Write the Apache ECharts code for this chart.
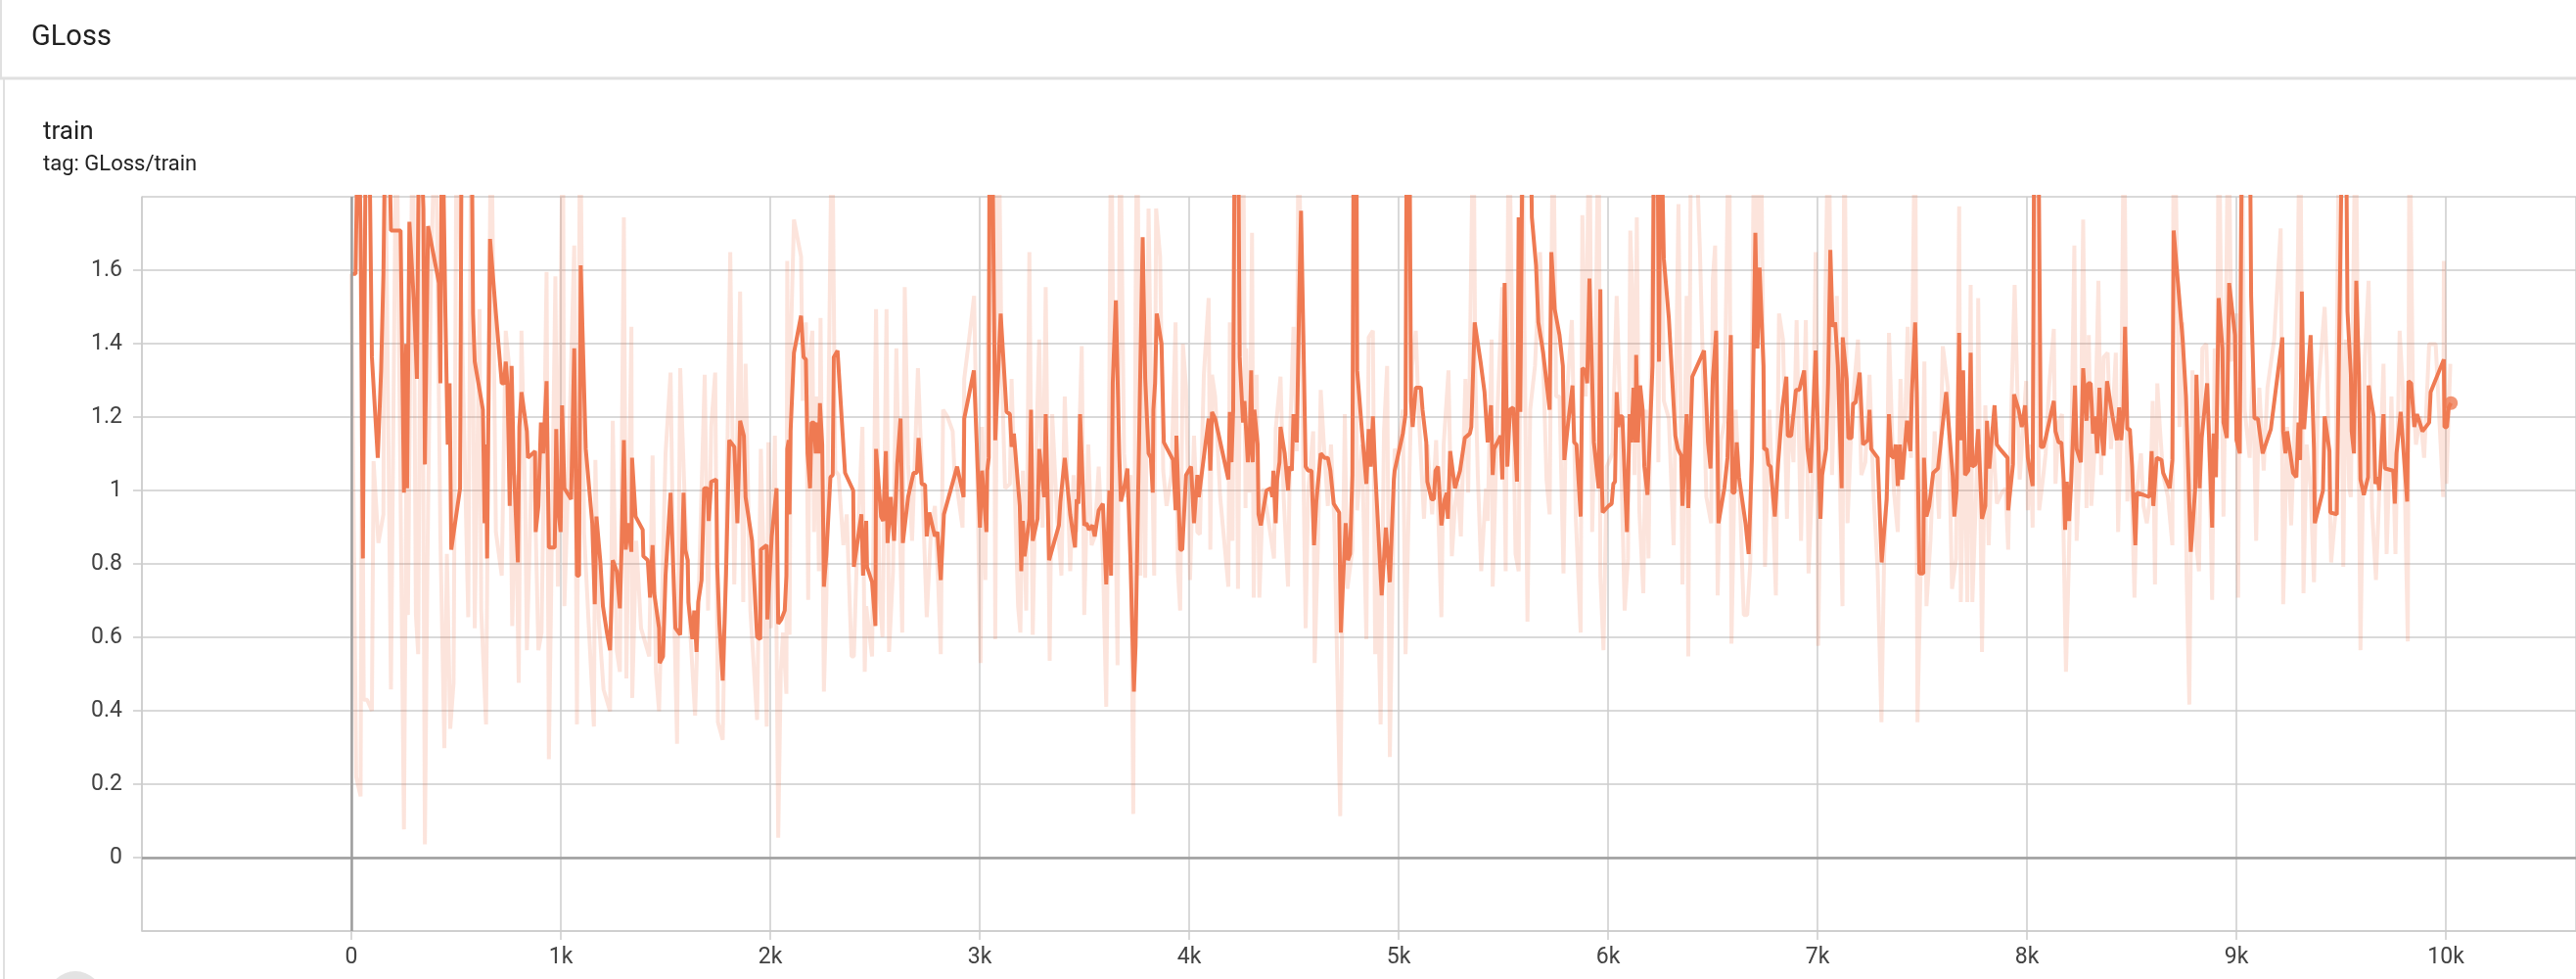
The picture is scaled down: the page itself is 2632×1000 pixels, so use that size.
<!DOCTYPE html>
<html>
<head>
<meta charset="utf-8">
<script src="https://cdn.jsdelivr.net/npm/echarts@6/dist/echarts.min.js"></script>
<style>
html,body{margin:0;padding:0;background:#fff;}
#chart{width:2632px;height:1000px;}
</style>
</head>
<body>
<div id="chart"></div>
<script>
// ---- data (step, value) ----
const smoothed = [
[5,1.59],[20,1.59],[33,2.1],[44,1.71],[55,0.815],[64,0.815],[70,2.1],[83,2.1],[98,1.363],[126,1.089],[142,1.327],[153,1.589],[164,2.1],[176,2.1],[189,1.708],[235,1.708],[251,0.994],[262,1.399],[266,1.006],[277,1.732],[298,1.518],[313,1.304],[324,2.1],[344,1.768],[351,1.071],[366,1.72],[418,1.565],[425,1.292],[433,2.1],[449,1.482],[460,1.125],[469,1.292],[477,0.839],[519,1.006],[527,2.1],[573,2.1],[581,1.482],[589,1.351],[628,1.22],[636,0.911],[643,1.125],[648,0.815],[662,1.685],[690,1.482],[718,1.292],[729,1.292],[737,1.351],[745,1.292],[756,0.958],[765,1.339],[776,1.054],[795,0.804],[802,1.173],[812,1.268],[838,1.161],[843,1.089],[877,1.107],[880,0.887],[893,0.958],[905,1.185],[916,1.101],[932,1.298],[943,0.845],[971,0.845],[978,1.167],[986,0.958],[999,0.887],[1006,1.232],[1017,1.006],[1049,0.976],[1064,1.387],[1077,0.768],[1087,0.768],[1095,1.613],[1119,1.113],[1150,0.911],[1162,0.69],[1170,0.929],[1189,0.804],[1201,0.685],[1220,0.613],[1235,0.565],[1248,0.81],[1267,0.78],[1282,0.679],[1290,0.839],[1301,1.137],[1310,0.839],[1321,0.911],[1337,0.833],[1340,1.089],[1357,0.929],[1391,0.893],[1394,0.821],[1415,0.81],[1426,0.708],[1438,0.851],[1446,0.72],[1469,0.625],[1472,0.53],[1488,0.548],[1500,0.768],[1524,0.994],[1547,0.625],[1570,0.607],[1586,0.994],[1594,0.839],[1606,0.81],[1609,0.696],[1628,0.595],[1637,0.673],[1648,0.56],[1656,0.696],[1672,0.756],[1684,1.006],[1700,1.006],[1706,0.917],[1718,1.024],[1742,1.03],[1747,0.792],[1757,0.637],[1773,0.482],[1789,0.774],[1804,1.137],[1828,1.119],[1843,0.911],[1856,1.19],[1874,1.149],[1882,0.982],[1913,0.863],[1937,0.601],[1952,0.595],[1955,0.839],[1983,0.851],[1986,0.649],
[2007,0.875],[2030,1.006],[2038,0.637],[2053,0.649],[2069,0.673],[2077,0.768],[2081,1.113],[2088,1.137],[2092,0.935],[2097,1.161],[2113,1.375],[2147,1.476],[2159,1.363],[2170,1.357],[2178,1.101],[2190,1.006],[2197,1.185],[2209,1.185],[2217,1.101],[2225,1.185],[2232,1.101],[2237,1.238],[2248,1.125],[2256,0.738],[2268,0.827],[2287,1.036],[2298,1.042],[2303,1.363],[2321,1.381],[2357,1.048],[2396,1.0],[2399,0.792],[2435,0.935],[2443,0.768],[2458,0.917],[2462,0.792],[2486,0.75],[2502,0.631],[2505,1.113],[2529,0.929],[2539,0.917],[2552,1.107],[2560,0.857],[2575,0.982],[2591,0.863],[2606,1.071],[2622,1.196],[2633,0.857],[2658,0.982],[2684,1.048],[2700,1.048],[2708,1.143],[2723,1.018],[2739,1.015],[2747,0.875],[2759,0.94],[2786,0.875],[2798,0.887],[2814,0.756],[2829,0.935],[2892,1.065],[2923,0.982],[2926,1.196],[2972,1.327],[2985,1.137],[3001,0.899],[3011,1.054],[3032,0.887],[3036,1.054],[3043,1.089],[3047,2.1],[3058,2.1],[3074,1.137],[3100,1.482],[3128,1.214],[3144,1.208],[3152,1.119],[3163,1.155],[3191,0.958],[3198,0.78],[3206,0.917],[3214,0.821],[3237,0.923],[3245,1.22],[3253,0.863],[3276,0.923],[3284,1.113],[3308,0.982],[3315,1.208],[3331,0.81],[3339,0.81],[3378,0.905],[3385,0.97],[3406,1.089],[3432,0.935],[3455,0.845],[3463,0.976],[3471,0.964],[3479,1.208],[3499,0.905],[3510,0.911],[3521,0.893],[3538,0.905],[3549,0.875],[3568,0.946],[3588,0.964],[3604,0.744],[3619,1.0],[3627,0.768],[3635,1.292],[3650,1.518],[3666,1.101],[3674,0.97],[3689,1.006],[3705,1.06],[3720,0.804],[3736,0.452],[3744,0.577],[3755,0.946],[3767,1.339],[3778,1.69],[3790,1.304],[3798,1.304],[3806,1.101],[3817,1.089],[3826,0.994],[3829,1.22],[3837,1.292],[3845,1.482],[3868,1.399],[3879,1.131],[3923,1.083],[3935,0.946],[3939,1.149],[3957,0.839],[3967,0.839],[3985,1.042],[4009,1.065],
[4023,0.911],[4039,1.042],[4046,0.982],[4054,0.982],[4093,1.196],[4101,1.054],[4109,1.214],[4124,1.196],[4187,1.03],[4194,1.214],[4202,1.077],[4210,1.22],[4218,2.1],[4233,2.1],[4241,1.363],[4257,1.185],[4264,1.244],[4280,1.077],[4288,1.125],[4296,1.327],[4303,1.077],[4311,1.22],[4327,1.125],[4331,0.935],[4342,0.905],[4369,1.0],[4389,1.006],[4397,0.982],[4402,1.054],[4413,0.911],[4420,1.03],[4431,1.077],[4436,1.173],[4456,1.101],[4472,1.0],[4478,1.065],[4490,1.054],[4498,1.208],[4514,1.131],[4525,1.518],[4534,1.762],[4545,1.423],[4556,1.065],[4568,1.054],[4584,1.054],[4596,0.851],[4607,0.97],[4628,1.101],[4646,1.089],[4662,1.089],[4674,1.054],[4690,0.964],[4716,0.94],[4724,0.613],[4747,0.911],[4758,0.81],[4768,0.827],[4779,1.042],[4786,2.1],[4798,2.1],[4802,1.327],[4825,1.161],[4846,1.018],[4857,1.167],[4867,1.065],[4877,1.202],[4888,1.054],[4919,0.714],[4939,0.899],[4958,0.75],[4977,1.03],[4981,1.054],[5020,1.155],[5033,1.208],[5039,2.1],[5051,2.1],[5059,1.244],[5067,1.173],[5082,1.28],[5106,1.28],[5114,1.22],[5132,1.131],[5137,1.024],[5157,0.976],[5168,0.976],[5176,1.054],[5188,1.065],[5204,0.905],[5220,0.976],[5230,0.994],[5235,0.923],[5246,1.107],[5269,1.006],[5293,1.054],[5316,1.143],[5340,1.155],[5347,1.173],[5363,1.458],[5391,1.351],[5410,1.268],[5425,1.131],[5441,1.232],[5449,1.042],[5456,1.113],[5487,1.149],[5495,1.03],[5506,1.565],[5519,1.065],[5531,1.22],[5547,1.226],[5565,1.024],[5573,1.744],[5581,1.214],[5593,2.1],[5628,2.1],[5636,1.744],[5656,1.613],[5667,1.458],[5690,1.375],[5721,1.22],[5729,1.649],[5745,1.494],[5768,1.423],[5784,1.339],[5791,1.083],[5807,1.173],[5830,1.286],[5838,1.131],[5849,1.125],[5869,0.929],[5877,1.333],[5893,1.327],[5900,1.292],[5911,1.577],[5932,1.131],[5955,1.006],[5963,1.548],[5971,1.006],[5974,0.94],[6002,0.958],[6017,0.964],[6025,1.018],[6033,1.024],[6041,1.268],[6049,1.173],
[6056,1.202],[6068,1.202],[6090,0.887],[6103,1.208],[6111,1.131],[6121,1.28],[6131,1.131],[6134,1.369],[6142,1.131],[6153,1.286],[6165,1.22],[6173,1.065],[6188,0.988],[6196,1.101],[6212,1.339],[6220,2.1],[6235,2.1],[6243,1.351],[6251,2.1],[6266,1.631],[6290,1.47],[6305,1.315],[6321,1.149],[6333,1.113],[6349,1.095],[6355,0.958],[6364,0.958],[6375,1.208],[6383,0.952],[6402,1.31],[6458,1.381],[6477,1.131],[6489,1.06],[6500,1.304],[6516,1.435],[6527,0.911],[6536,0.911],[6555,1.006],[6570,1.089],[6586,1.423],[6594,0.994],[6604,0.994],[6614,1.131],[6625,1.036],[6656,0.911],[6671,0.827],[6679,0.958],[6687,1.095],[6695,1.095],[6703,1.702],[6713,1.387],[6723,1.607],[6742,1.339],[6745,1.113],[6757,1.113],[6765,1.071],[6776,1.065],[6796,0.929],[6812,1.077],[6832,1.226],[6851,1.31],[6858,1.149],[6874,1.149],[6897,1.274],[6913,1.274],[6936,1.327],[6952,1.113],[6967,1.048],[6991,1.381],[7014,0.923],[7022,1.042],[7041,1.113],[7050,1.292],[7061,1.655],[7072,1.446],[7084,1.458],[7097,1.339],[7115,1.006],[7120,1.417],[7139,1.304],[7147,1.143],[7162,1.143],[7170,1.238],[7181,1.238],[7201,1.321],[7217,1.125],[7240,1.137],[7248,1.22],[7256,1.113],[7287,1.089],[7306,0.804],[7330,0.976],[7341,1.208],[7352,1.095],[7365,1.089],[7373,1.125],[7383,1.012],[7393,1.125],[7404,1.03],[7427,1.19],[7443,1.107],[7450,1.262],[7466,1.458],[7474,1.268],[7486,0.774],[7505,0.774],[7508,1.089],[7520,0.929],[7533,0.958],[7552,1.048],[7575,1.06],[7614,1.268],[7645,1.042],[7653,0.929],[7664,1.0],[7676,1.429],[7684,1.137],[7695,1.327],[7704,1.042],[7720,1.054],[7731,1.375],[7739,1.065],[7754,1.071],[7767,1.167],[7785,0.923],[7801,0.958],[7809,1.19],[7820,1.06],[7845,1.232],[7856,1.125],[7871,1.113],[7907,1.089],[7910,0.946],[7933,1.071],[7938,1.262],[7960,1.22],[7975,1.173],[7991,1.232],[8004,1.089],[8011,1.089],[8027,1.012],[8035,2.1],[8053,2.1],[8066,1.119],[8078,1.119],
[8089,1.143],[8128,1.244],[8136,1.161],[8151,1.131],[8164,1.131],[8175,1.03],[8182,0.893],[8190,1.024],[8201,0.917],[8211,1.024],[8229,1.286],[8237,1.113],[8257,1.077],[8268,1.333],[8284,1.19],[8292,1.292],[8304,1.292],[8315,1.155],[8326,1.202],[8335,1.101],[8346,1.28],[8357,1.149],[8366,1.095],[8382,1.298],[8408,1.202],[8429,1.137],[8440,1.226],[8450,1.137],[8460,1.214],[8468,1.446],[8479,1.167],[8491,1.167],[8502,1.065],[8507,0.982],[8517,0.851],[8525,0.994],[8556,0.988],[8584,0.982],[8595,1.107],[8603,0.958],[8619,1.089],[8642,1.083],[8650,1.048],[8681,1.006],[8694,1.083],[8700,1.708],[8743,1.411],[8759,1.256],[8782,0.833],[8803,1.006],[8809,1.315],[8824,1.006],[8834,1.143],[8860,1.292],[8884,0.899],[8891,1.155],[8902,1.036],[8915,1.524],[8933,1.387],[8938,1.185],[8954,1.143],[8965,1.565],[8993,1.423],[9000,1.137],[9016,1.101],[9027,2.1],[9063,2.1],[9070,1.53],[9086,1.196],[9102,1.196],[9125,1.101],[9164,1.167],[9219,1.417],[9223,1.161],[9234,1.101],[9242,1.161],[9270,1.048],[9286,1.036],[9296,1.185],[9304,1.083],[9312,1.542],[9323,1.167],[9354,1.423],[9370,1.113],[9374,0.911],[9413,1.0],[9421,1.202],[9444,1.107],[9448,0.94],[9479,0.935],[9507,2.1],[9522,2.1],[9530,1.488],[9546,1.315],[9550,1.161],[9561,1.101],[9572,1.571],[9585,1.315],[9592,1.03],[9608,0.988],[9628,1.036],[9631,1.286],[9655,1.202],[9663,1.018],[9675,1.036],[9681,1.0],[9702,1.208],[9709,1.06],[9748,1.054],[9756,0.964],[9764,1.101],[9772,1.101],[9784,1.214],[9800,1.089],[9815,0.97],[9821,1.298],[9834,1.292],[9849,1.173],[9862,1.208],[9888,1.161],[9920,1.185],[9927,1.268],[9990,1.357],[9993,1.173],[10005,1.173],[10013,1.226],[10024,1.238]
];

const raw = [
[0,1.59],[23,0.22],[44,0.167],[51,1.34],[59,0.43],[75,0.43],[98,0.40],[106,1.08],[129,0.857],[153,0.935],[160,2.1],[189,0.458],[199,1.089],[215,2.1],[251,0.077],[262,1.006],[270,0.661],[293,2.1],[308,0.661],[319,0.554],[335,2.1],[351,0.036],[363,0.792],[379,1.542],[402,2.1],[425,0.875],[444,0.298],[456,0.827],[472,0.351],[488,0.476],[503,2.1],[558,0.655],[573,2.1],[589,0.625],[612,1.494],[620,0.673],[643,0.363],[667,2.1],[690,0.887],[718,0.768],[737,1.435],[753,1.339],[768,0.631],[784,1.042],[799,0.476],[812,1.435],[830,0.97],[838,0.565],[862,1.095],[877,0.97],[893,0.565],[908,0.613],[932,1.595],[943,0.268],[955,0.768],[974,1.583],[986,0.738],[1010,2.1],[1017,0.685],[1033,0.982],[1064,1.667],[1077,0.363],[1092,2.1],[1111,0.887],[1134,0.625],[1158,0.357],[1165,1.083],[1181,0.649],[1204,0.458],[1235,0.399],[1248,1.19],[1267,0.565],[1282,0.506],[1301,1.744],[1313,0.488],[1337,1.446],[1341,0.435],[1360,0.863],[1383,0.625],[1422,0.548],[1438,1.095],[1454,0.506],[1469,0.399],[1485,0.744],[1500,1.101],[1524,1.321],[1539,0.72],[1555,0.31],[1570,1.333],[1594,0.935],[1617,0.625],[1641,0.387],[1656,0.673],[1687,1.315],[1703,0.673],[1718,1.173],[1737,1.321],[1750,0.369],[1773,0.321],[1789,0.863],[1809,1.649],[1828,0.744],[1856,1.542],[1871,0.696],[1882,1.345],[1905,0.673],[1937,0.375],[1955,1.113],[1968,0.815],[1983,0.357],
[1991,1.131],[2003,0.625],[2022,1.149],[2038,0.054],[2050,0.506],[2061,0.613],[2077,0.446],[2081,1.625],[2092,0.607],[2100,1.446],[2113,1.738],[2147,1.637],[2155,1.244],[2170,1.458],[2181,0.702],[2190,1.375],[2201,1.435],[2209,0.887],[2222,1.256],[2232,0.78],[2240,1.47],[2256,0.452],[2268,0.708],[2295,2.1],[2310,1.054],[2326,1.042],[2349,0.851],[2365,0.935],[2388,0.548],[2399,0.548],[2412,0.792],[2440,1.173],[2451,0.506],[2458,0.685],[2486,0.548],[2505,1.494],[2521,0.72],[2536,0.601],[2555,1.494],[2567,0.56],[2586,0.78],[2602,1.387],[2614,1.018],[2630,0.613],[2642,1.554],[2658,1.071],[2677,0.863],[2705,1.333],[2723,1.065],[2747,0.655],[2767,0.887],[2786,0.958],[2801,0.756],[2814,0.554],[2825,1.22],[2845,1.202],[2871,1.161],[2879,1.054],[2892,1.006],[2918,0.899],[2926,1.304],[2954,1.435],[2973,1.53],[2988,1.054],[3004,0.53],[3011,1.173],[3027,0.756],[3038,1.435],[3066,2.1],[3074,0.595],[3089,2.1],[3105,1.327],[3121,1.006],[3144,1.018],[3152,1.304],[3183,0.685],[3194,0.613],[3206,1.054],[3222,0.673],[3237,1.649],[3253,0.607],[3269,1.101],[3284,1.411],[3300,0.899],[3315,1.554],[3334,0.536],[3346,1.208],[3370,0.923],[3390,0.768],[3406,1.256],[3432,0.78],[3448,1.042],[3463,0.887],[3487,1.393],[3499,0.661],[3518,1.125],[3534,0.851],[3549,0.875],[3568,1.065],[3588,0.815],[3604,0.411],[3619,1.304],[3627,2.1],[3639,1.304],[3658,0.524],[3670,2.1],[3689,1.101],[3705,0.982],[3720,1.042],[3733,0.119],[3744,1.506],[3752,2.1],[3767,0.768],[3780,1.518],[3790,0.762],[3806,1.768],[3822,1.101],[3833,0.768],[3842,1.768],[3861,1.637],[3876,1.054],[3892,0.958],[3915,1.042],[3935,1.458],[3946,0.78],[3957,0.673],[3970,1.399],[3985,1.28],[4004,0.756],
[4023,1.149],[4039,0.887],[4051,0.881],[4070,1.315],[4093,1.524],[4101,0.839],[4109,1.315],[4124,1.256],[4148,0.982],[4171,0.839],[4187,0.738],[4194,1.458],[4207,0.863],[4218,2.1],[4233,0.732],[4244,1.458],[4257,2.1],[4269,0.952],[4272,1.387],[4288,0.994],[4300,1.702],[4308,0.708],[4322,1.315],[4335,0.708],[4353,1.006],[4374,0.935],[4405,0.815],[4413,1.167],[4436,1.31],[4451,0.982],[4472,0.738],[4483,1.173],[4498,1.446],[4514,1.107],[4522,2.1],[4537,1.387],[4556,0.625],[4568,0.994],[4592,1.161],[4599,0.53],[4615,0.863],[4628,1.274],[4643,1.125],[4662,0.958],[4677,1.125],[4693,0.911],[4721,0.113],[4732,0.744],[4743,1.208],[4755,0.732],[4779,0.839],[4786,2.1],[4802,0.946],[4825,1.125],[4846,0.595],[4857,1.417],[4877,1.435],[4888,0.554],[4895,0.887],[4914,0.363],[4930,1.161],[4945,1.339],[4958,0.274],[4981,1.113],[4997,1.101],[5020,1.22],[5033,0.554],[5051,1.03],[5064,1.339],[5082,1.435],[5095,1.22],[5121,0.923],[5137,1.125],[5160,0.935],[5179,1.137],[5204,0.655],[5215,1.125],[5238,1.327],[5254,0.821],[5269,0.958],[5282,1.018],[5297,0.875],[5319,1.304],[5332,0.994],[5357,2.1],[5366,1.315],[5378,1.042],[5394,0.78],[5417,1.006],[5425,0.917],[5444,1.411],[5449,0.738],[5472,1.22],[5495,1.554],[5511,0.78],[5526,2.1],[5547,1.22],[5558,0.827],[5573,0.78],[5589,2.1],[5615,0.643],[5628,1.22],[5651,1.339],[5675,1.649],[5690,1.351],[5706,1.03],[5721,0.935],[5737,2.1],[5752,1.256],[5768,1.256],[5787,0.774],[5799,1.22],[5827,1.464],[5846,0.923],[5869,0.613],[5877,1.75],[5893,1.256],[5911,2.1],[5924,0.887],[5936,1.196],[5955,2.1],[5963,0.768],[5978,0.565],[5994,1.065],[6020,1.101],[6041,1.53],
[6056,1.244],[6079,0.673],[6095,0.815],[6106,1.708],[6118,1.506],[6126,1.042],[6137,1.744],[6149,0.946],[6168,0.72],[6181,1.22],[6193,0.815],[6212,1.673],[6227,2.1],[6240,1.077],[6251,2.1],[6266,1.244],[6290,1.196],[6313,0.851],[6336,1.78],[6355,0.744],[6375,1.53],[6383,0.548],[6396,2.1],[6411,2.1],[6438,1.661],[6469,0.982],[6492,0.911],[6500,1.577],[6511,1.667],[6523,0.714],[6539,1.137],[6555,1.185],[6578,2.1],[6589,0.583],[6609,1.22],[6629,0.982],[6648,0.661],[6664,0.661],[6679,0.804],[6698,2.1],[6710,1.387],[6729,2.1],[6749,0.792],[6770,1.22],[6788,0.935],[6801,0.714],[6816,1.482],[6835,1.411],[6854,0.923],[6866,1.208],[6885,1.077],[6900,1.464],[6921,0.863],[6944,1.464],[6957,0.774],[6975,1.03],[6991,1.649],[7003,0.577],[7014,1.006],[7030,1.244],[7053,2.1],[7069,1.042],[7092,1.53],[7103,1.125],[7119,0.685],[7128,2.1],[7143,0.911],[7165,1.22],[7193,1.411],[7209,1.042],[7228,1.077],[7248,1.315],[7268,0.982],[7287,0.78],[7305,0.369],[7318,0.827],[7330,0.982],[7341,1.429],[7365,0.994],[7383,0.887],[7396,1.304],[7411,1.03],[7430,1.446],[7446,1.089],[7466,2.1],[7477,0.369],[7497,0.911],[7510,1.351],[7520,0.685],[7539,0.863],[7559,1.161],[7580,0.923],[7598,1.393],[7622,1.28],[7642,0.732],[7661,0.815],[7676,1.774],[7684,0.696],[7700,1.196],[7715,0.696],[7731,1.56],[7739,0.696],[7762,1.077],[7767,1.524],[7785,0.56],[7801,1.232],[7817,0.851],[7835,1.173],[7856,0.964],[7879,0.994],[7898,1.006],[7910,0.839],[7926,1.244],[7941,1.56],[7965,1.03],[7996,1.298],[8004,0.946],[8016,1.125],[8027,0.899],[8038,2.1],[8058,0.946],[8078,1.042],
[8089,1.101],[8105,1.28],[8128,1.44],[8136,1.018],[8151,1.185],[8167,1.208],[8175,0.863],[8186,0.506],[8198,0.768],[8211,1.101],[8226,1.667],[8237,0.863],[8257,1.149],[8268,1.738],[8284,0.952],[8295,1.423],[8307,0.958],[8323,1.113],[8341,1.571],[8354,1.042],[8366,1.363],[8385,1.375],[8401,1.113],[8424,1.375],[8435,0.887],[8450,1.22],[8463,2.1],[8479,0.97],[8494,1.149],[8513,0.708],[8525,1.006],[8544,1.101],[8556,0.958],[8572,0.911],[8588,0.982],[8600,1.244],[8611,0.744],[8622,1.292],[8634,1.173],[8650,1.042],[8673,0.982],[8694,0.851],[8700,2.1],[8712,1.78],[8728,1.173],[8743,1.458],[8756,1.054],[8762,0.768],[8775,0.417],[8790,1.327],[8806,0.863],[8821,0.78],[8837,1.387],[8856,1.399],[8868,1.161],[8884,0.702],[8896,1.387],[8907,1.113],[8915,2.1],[8938,0.929],[8946,1.244],[8961,2.1],[8977,1.351],[9000,1.482],[9008,0.708],[9024,2.1],[9039,1.22],[9063,1.089],[9078,1.339],[9094,0.863],[9109,1.28],[9130,1.054],[9148,1.28],[9180,1.411],[9211,1.714],[9223,0.69],[9242,1.173],[9261,0.905],[9286,1.321],[9304,2.1],[9320,0.72],[9335,1.125],[9354,1.006],[9370,0.75],[9390,1.268],[9421,1.5],[9432,1.339],[9452,0.804],[9472,0.935],[9491,2.1],[9510,0.792],[9522,1.411],[9538,1.006],[9546,0.982],[9569,2.1],[9592,0.565],[9613,1.363],[9631,1.571],[9647,0.952],[9666,0.756],[9681,0.982],[9702,1.345],[9717,0.827],[9740,1.256],[9759,0.827],[9779,1.435],[9795,1.268],[9818,0.589],[9826,2.1],[9842,1.28],[9857,1.125],[9878,1.202],[9896,1.089],[9920,1.399],[9951,1.399],[9987,0.982],[9990,1.625],[10002,1.018],[10021,1.345]
];

const pageTitle = 'GLoss';
const runName = 'train';
const tagText = 'tag: GLoss/train';
const xRange = [-1000, 10621];
const yRange = [-0.2, 1.8];

const lineColor = '#ef7a52';
const chart = echarts.init(document.getElementById('chart'), null, {renderer: 'canvas'});

function fmtX(v) {
  if (v === 0) return '0';
  return (v / 1000) + 'k';
}
function fmtY(v) {
  return String(parseFloat(v.toFixed(1)));
}

const option = {
  animation: false,
  backgroundColor: '#ffffff',
  textStyle: {fontFamily: 'Roboto'},
  grid: {left: 145, right: 0, top: 201, bottom: 49, containLabel: false},
  xAxis: {
    type: 'value', min: xRange[0], max: xRange[1], interval: 1000,
    axisLine: {show: true, onZero: false, lineStyle: {color: '#cccccc', width: 1.5}},
    axisTick: {show: true, length: 9, lineStyle: {color: '#cccccc', width: 1.5}},
    splitLine: {show: true, lineStyle: {color: '#cccccc', width: 1.5}},
    axisLabel: {show: true, showMinLabel: false, showMaxLabel: false, formatter: fmtX,
      color: '#424242', fontSize: 23, fontFamily: 'Roboto', margin: 16}
  },
  yAxis: {
    type: 'value', min: yRange[0], max: yRange[1], interval: 0.2,
    axisLine: {show: true, onZero: false, lineStyle: {color: '#cccccc', width: 1.5}},
    axisTick: {show: true, length: 9, lineStyle: {color: '#cccccc', width: 1.5}},
    splitLine: {show: true, lineStyle: {color: '#cccccc', width: 1.5}},
    axisLabel: {show: true, showMinLabel: false, showMaxLabel: false, formatter: fmtY,
      color: '#424242', fontSize: 23, fontFamily: 'Roboto', margin: 20}
  },
  series: [
    {
      name: 'zero', type: 'line', data: [], z: 1, silent: true,
      markLine: {
        silent: true, symbol: 'none', animation: false,
        label: {show: false},
        lineStyle: {color: '#9e9e9e', width: 2.5, type: 'solid'},
        data: [{xAxis: 0}, {yAxis: 0}]
      }
    },
    {
      name: 'raw', type: 'line', data: raw, showSymbol: false, z: 2, clip: true,
      lineStyle: {color: lineColor, opacity: 0.2, width: 4},
      itemStyle: {color: lineColor}
    },
    {
      name: 'smoothed', type: 'line', data: smoothed, showSymbol: false, z: 3, clip: true,
      lineStyle: {color: lineColor, width: 4},
      itemStyle: {color: lineColor}
    },
    {
      name: 'last', type: 'scatter', data: [smoothed[smoothed.length - 1]], z: 4,
      symbolSize: 14, itemStyle: {color: lineColor}
    }
  ],
  graphic: [
    {type: 'rect', shape: {x: 0, y: 0, width: 2632, height: 80}, style: {fill: '#fff', stroke: null}, z: 0},
    {type: 'line', shape: {x1: 1, y1: 0, x2: 1, y2: 80}, style: {stroke: '#e0e0e0', lineWidth: 2}},
    {type: 'line', shape: {x1: 0, y1: 80, x2: 2632, y2: 80}, style: {stroke: '#e0e0e0', lineWidth: 3}},
    {type: 'line', shape: {x1: 4, y1: 81, x2: 4, y2: 1000}, style: {stroke: '#e0e0e0', lineWidth: 2}},
    {type: 'text', left: 32, top: 24, style: {text: pageTitle, font: '29px Roboto', fill: '#212121'}},
    {type: 'text', left: 44, top: 122, style: {text: runName, font: '26px Roboto', fill: '#212121'}},
    {type: 'text', left: 44, top: 157, style: {text: tagText, font: '22px Roboto', fill: '#212121'}},
    {type: 'circle', shape: {cx: 77, cy: 1020, r: 28}, style: {fill: '#e3e3e3'}}
  ]
};
chart.setOption(option);
</script>
</body>
</html>
